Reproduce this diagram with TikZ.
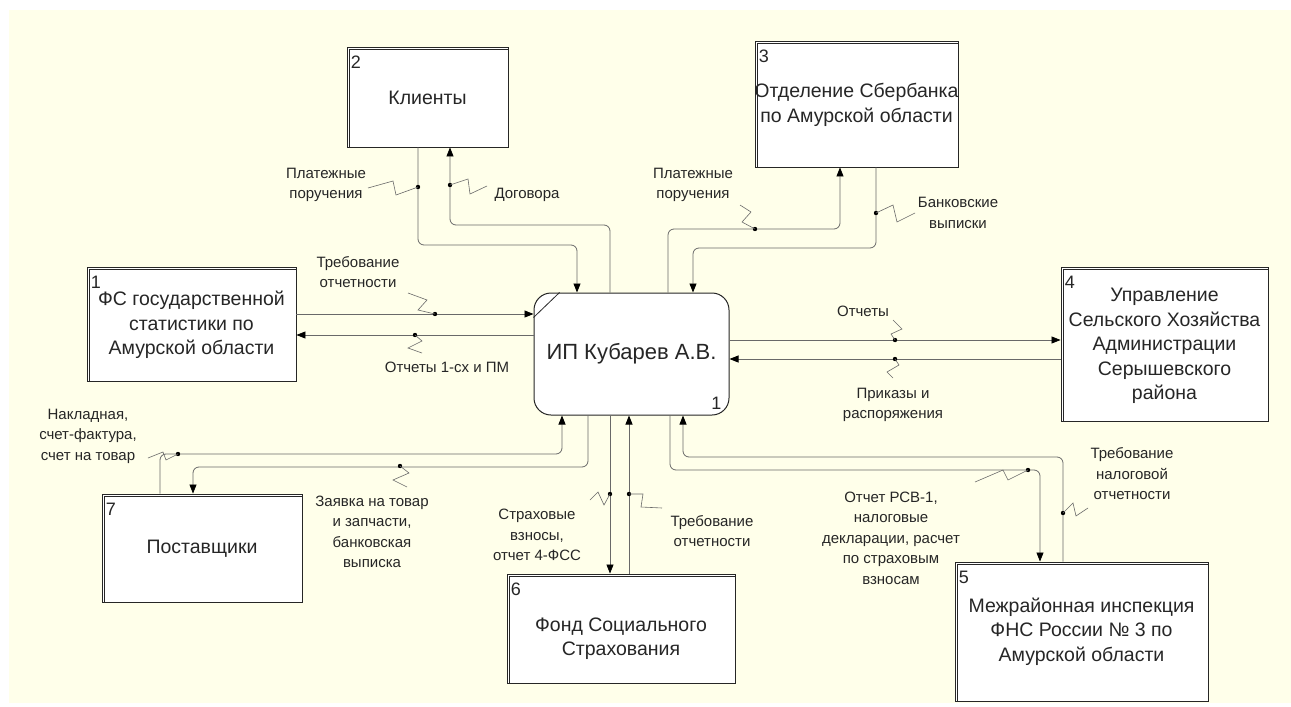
\documentclass[tikz,border=0pt]{standalone}
\usepackage{fontspec}
\setmainfont{Liberation Sans}
\usepackage{tikz}
\usetikzlibrary{arrows.meta}
\definecolor{paper}{RGB}{255,255,234}
\definecolor{wire}{RGB}{105,105,105}
\tikzset{
    entity/.style={draw=black!85, fill=white, line width=0.9pt, inner sep=0pt},
    entline/.style={draw=black!85, line width=0.7pt},
    num/.style={font=\fontsize{18}{18}\selectfont, inner sep=0pt, text=black!85},
    boxtext/.style={font=\fontsize{19.5}{24.5}\selectfont, align=center, inner sep=0pt, text=black!85},
    proc/.style={draw=black!85, fill=white, line width=1pt, rounded corners=17pt,
        minimum width=195pt, minimum height=122pt, inner sep=0pt,
        font=\fontsize{22}{22}\selectfont, text=black!85},
    lbl/.style={font=\fontsize{15}{20.5}\selectfont, align=center, inner sep=0pt, text=black!85},
    flow/.style={draw=wire, line width=0.8pt, rounded corners=6pt},
    into/.style={flow, -{Triangle[length=9pt,width=7pt,color=black]}},
    squig/.style={draw=wire, line width=0.6pt}
}
\newcommand{\entity}[8] {
	\node[entity, minimum width={#4-#2}, minimum height={#5-#3}] (#1) at ({(#2+#4)/2},{(#3+#5)/2}) {};
	\draw[entline] ([xshift=3pt]#1.south west) -- ([xshift=3pt,yshift=-3pt]#1.north west) -- ([yshift=-3pt]#1.north east);
	\node[num, anchor=base west] (#1n) at ([xshift=4pt,yshift=-22pt]#1.north west) {#6};
	\node[boxtext] (#1t) at ([yshift={-(#8)*1pt}]#1.center) {#7};
}
\newcommand{\tick}[4] {
	\fill[black] (#1) circle [radius=2.2pt];
	\draw[squig] (#1) -- ++#2 -- ++#3 -- ++#4;
}

\begin{document}
\begin{tikzpicture}[x=1pt, y=-1pt]
		\useasboundingbox (0,0) rectangle (1291,707);
		\fill[paper] (9,10) rectangle (1291,703);

		% process
		\node[proc] (ip) at (631.5,354) {ИП Кубарев А.В.};
		\draw[line width=0.8pt, black!85] ([yshift=-25pt]ip.north west) -- ([xshift=26pt]ip.north west);
		\node[num, anchor=base east] (ipn) at ([xshift=-8pt,yshift=6pt]ip.south east) {1};

		% external entities
		\entity{fs}{87}{267}{296}{381}{1}{ФС государственной\\статистики по\\Амурской области}{1}
		\entity{kl}{347}{47}{508}{147}{2}{Клиенты}{1}
		\entity{sb}{755}{41}{958}{167}{3}{Отделение Сбербанка\\по Амурской области}{1}
		\entity{up}{1061}{267}{1268}{421}{4}{Управление\\Сельского Хозяйства\\Администрации\\Серышевского\\района}{2}
		\entity{fns}{955}{562}{1208}{701}{5}{Межрайонная инспекция\\ФНС России № 3 по\\Амурской области}{0}
		\entity{fss}{507}{574}{735}{683}{6}{Фонд Социального\\Страхования}{10}
		\entity{ps}{102}{494}{302}{602}{7}{Поставщики}{1}

		% Klienty side
		\coordinate (a1) at (418,245); \coordinate (b1) at (577,245);
		\draw[into] (kl.south -| a1) -- (a1) -- (b1) -- (ip.north -| b1);
		\coordinate (d1) at (418,187);
		\tick{d1}{(-22,8)}{(-3,-14)}{(-25,7)}
		\node[lbl] (l1) at (326,185) {Платежные\\поручения};

		\coordinate (a2) at (610,225); \coordinate (b2) at (450,225);
		\draw[into] (ip.north -| a2) -- (a2) -- (b2) -- (kl.south -| b2);
		\coordinate (d2) at (450,185);
		\tick{d2}{(18,-6)}{(2,15)}{(17,-8)}
		\node[lbl] (l2) at (527,195) {Договора};

		% Sberbank side
		\coordinate (a3) at (668,229); \coordinate (b3) at (840,229);
		\draw[into] (ip.north -| a3) -- (a3) -- (b3) -- (sb.south -| b3);
		\coordinate (d3) at (755,229);
		\tick{d3}{(-13,-7)}{(9,-10)}{(-11,-7)}
		\node[lbl] (l3) at (693,185) {Платежные\\поручения};

		\coordinate (a4) at (876,248); \coordinate (b4) at (693,248);
		\draw[into] (sb.south -| a4) -- (a4) -- (b4) -- (ip.north -| b4);
		\coordinate (d4) at (876,213);
		\tick{d4}{(17,-8)}{(4,17)}{(18,-9)}
		\node[lbl] (l4) at (958,213) {Банковские\\выписки};

		% statistics side
		\coordinate (a5) at (0,314);
		\draw[into] (fs.east |- a5) -- (ip.west |- a5);
		\coordinate (d5) at (435,314);
		\tick{d5}{(-17,-4)}{(9,-10)}{(-19,-7)}
		\node[lbl] (l5) at (358,272) {Требование\\отчетности};

		\coordinate (a6) at (0,335);
		\draw[into] (ip.west |- a6) -- (fs.east |- a6);
		\coordinate (d6) at (415,335);
		\tick{d6}{(7,6)}{(-14,7)}{(14,5)}
		\node[lbl] (l6) at (447,367) {Отчеты 1-сх и ПМ};

		% agriculture side
		\coordinate (a7) at (0,340);
		\draw[into] (ip.east |- a7) -- (up.west |- a7);
		\coordinate (d7) at (895,340);
		\tick{d7}{(-4,-6)}{(11,-5)}{(-9,-9)}
		\node[lbl] (l7) at (863,311) {Отчеты};

		\coordinate (a8) at (0,359);
		\draw[into] (up.west |- a8) -- (ip.east |- a8);
		\coordinate (d8) at (895,359);
		\tick{d8}{(4,6)}{(-12,7)}{(6,6)}
		\node[lbl] (l8) at (893,405) {Приказы и\\распоряжения};

		% suppliers side
		\coordinate (a9) at (160,454); \coordinate (b9) at (562,454);
		\draw[into] (ps.north -| a9) -- (a9) -- (b9) -- (ip.south -| b9);
		\coordinate (d9) at (178,454);
		\tick{d9}{(-12,6)}{(-3,-8)}{(-15,6)}
		\node[lbl] (l9) at (88,436) {Накладная,\\счет-фактура,\\счет на товар};

		\coordinate (a10) at (588,467); \coordinate (b10) at (193,467);
		\draw[into] (ip.south -| a10) -- (a10) -- (b10) -- (ps.north -| b10);
		\coordinate (d10) at (400,466);
		\tick{d10}{(9,7)}{(-16,7)}{(14,7)}
		\node[lbl] (l10) at (372,532) {Заявка на товар\\и запчасти,\\банковская\\выписка};

		% social insurance side
		\coordinate (a11) at (610,0);
		\draw[into] (ip.south -| a11) -- (fss.north -| a11);
		\coordinate (d11) at (610,494);
		\tick{d11}{(-6,11)}{(-6,-13)}{(-8,8)}
		\node[lbl] (l11) at (537,535) {Страховые\\взносы,\\отчет 4-ФСС};

		\coordinate (a12) at (629,0);
		\draw[into] (fss.north -| a12) -- (ip.south -| a12);
		\coordinate (d12) at (629,494);
		\tick{d12}{(14,0)}{(-2,13)}{(21,1)}
		\node[lbl] (l12) at (712,531) {Требование\\отчетности};

		% tax side
		\coordinate (a13) at (670,470); \coordinate (b13) at (1040,470);
		\draw[into] (ip.south -| a13) -- (a13) -- (b13) -- (fns.north -| b13);
		\coordinate (d13) at (1028,470);
		\tick{d13}{(-20,10)}{(-5,-10)}{(-28,12)}
		\node[lbl] (l13) at (891,538) {Отчет РСВ-1,\\налоговые\\декларации, расчет\\по страховым\\взносам};

		\coordinate (a14) at (1063,457); \coordinate (b14) at (683,457);
		\draw[into] (fns.north -| a14) -- (a14) -- (b14) -- (ip.south -| b14);
		\coordinate (d14) at (1063,513);
		\tick{d14}{(10,-10)}{(3,13)}{(12,-8)}
		\node[lbl] (l14) at (1132,474) {Требование\\налоговой\\отчетности};

	\end{tikzpicture}
\end{document}
